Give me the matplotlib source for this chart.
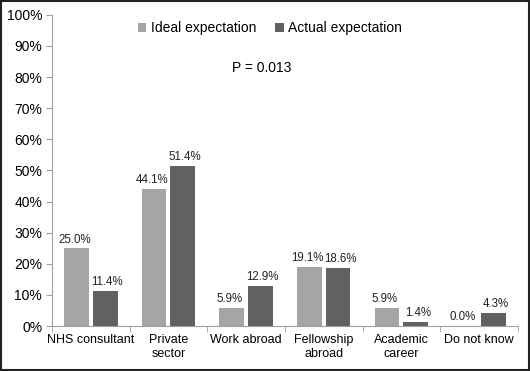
import numpy as np
import matplotlib
matplotlib.use('Agg')
import matplotlib.pyplot as plt
import matplotlib.ticker as mticker
from matplotlib.patches import Rectangle

plt.rcParams['font.family'] = ['Liberation Sans', 'DejaVu Sans']
plt.rcParams['font.size'] = 9

categories = ['NHS consultant', 'Private\nsector', 'Work abroad',
              'Fellowship\nabroad', 'Academic\ncareer', 'Do not know']
ideal = [25.0, 44.1, 5.9, 19.1, 5.9, 0.0]
actual = [11.4, 51.4, 12.9, 18.6, 1.4, 4.3]

c_ideal = '#a5a5a5'
c_actual = '#616161'
grey = '#a0a0a0'

fig = plt.figure(figsize=(5.3, 3.71), dpi=100)
ax = fig.add_axes([0.098, 0.121, 0.879, 0.839])

x = np.arange(len(categories))
w = 0.32
b1 = ax.bar(x - 0.185, ideal, w, color=c_ideal, label='Ideal expectation')
b2 = ax.bar(x + 0.185, actual, w, color=c_actual, label='Actual expectation')

# value labels, pushed a touch apart so neighbours don't collide
for bars, vals, dx in [(b1, ideal, -1.5), (b2, actual, 1.5)]:
    for r, v in zip(bars, vals):
        ax.annotate('%.1f%%' % v, (r.get_x() + r.get_width() / 2, v),
                    xytext=(dx, 2), textcoords='offset points',
                    ha='center', va='bottom', fontsize=8.3, color='#222222')

ax.set_xlim(-0.5, len(categories) - 0.5)
ax.set_ylim(0, 100)
ax.yaxis.set_major_locator(mticker.MultipleLocator(10))
ax.yaxis.set_major_formatter(mticker.FuncFormatter(lambda v, p: '%d%%' % v))
ax.tick_params(axis='y', labelsize=10, color=grey, length=4, pad=3)

ax.set_xticks(x)
ax.set_xticklabels(categories, fontsize=9)
ax.tick_params(axis='x', length=0, pad=6)
ax.set_xticks(np.arange(len(categories) + 1) - 0.5, minor=True)
ax.tick_params(axis='x', which='minor', length=4, color=grey)

for s in ['top', 'right']:
    ax.spines[s].set_visible(False)
ax.spines['left'].set_color(grey)
ax.spines['bottom'].set_color(grey)

ax.legend(loc='upper center', bbox_to_anchor=(0.468, 1.02), ncol=2, frameon=False,
          fontsize=10, handlelength=0.6, handleheight=0.6, handletextpad=0.3,
          columnspacing=1.4)

ax.text(0.45, 0.83, 'P = 0.013', transform=ax.transAxes, ha='center',
        va='center', fontsize=10)

fig.patches.append(Rectangle((0.002, 0.003), 0.996, 0.994, transform=fig.transFigure,
                             fill=False, edgecolor='#222222', linewidth=1.5))

fig.savefig('out.png', dpi=100)
